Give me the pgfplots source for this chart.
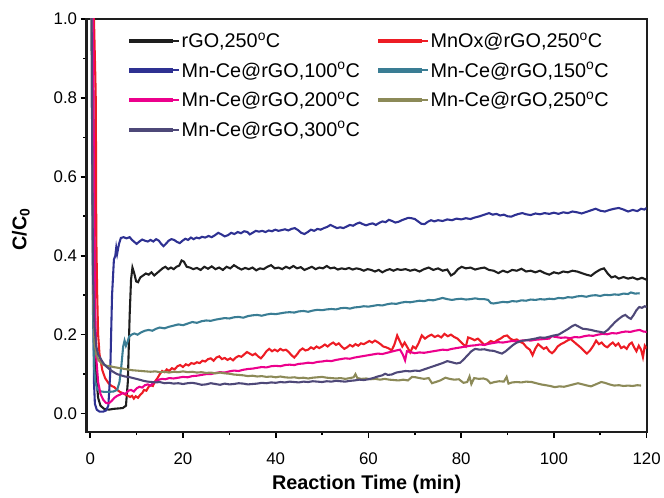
\documentclass[border=0pt]{standalone}
\usepackage{fontspec}
\setmainfont{Liberation Sans}
\usepackage{pgfplots}
\pgfplotsset{compat=1.18}

\definecolor{cBlack}{RGB}{30,30,30}
\definecolor{cRed}{RGB}{237,28,36}
\definecolor{cNavy}{RGB}{46,49,146}
\definecolor{cTeal}{RGB}{58,125,148}
\definecolor{cMag}{RGB}{236,0,140}
\definecolor{cOlive}{RGB}{140,138,88}
\definecolor{cSlate}{RGB}{78,72,120}

\begin{document}
\begin{tikzpicture}
\begin{axis}[
  name=ax,
  scale only axis, width=563bp, height=415bp,
  xmin=-0.8, xmax=120, ymin=-0.046, ymax=1.0,
  xtick={0,20,...,120}, ytick={0,0.2,0.4,0.6,0.8,1.0},
  minor x tick num=1, minor y tick num=1,
  tick align=outside, tick pos=left,
  major tick length=6bp, minor tick length=3.5bp,
  every tick/.append style={black, line width=1.6pt},
  axis line style={line width=2.2pt, cBlack},
  /pgf/number format/assume math mode=true,
  ticklabel style={font=\fontsize{17}{17}\selectfont},
  yticklabel style={/pgf/number format/.cd, fixed, fixed zerofill, precision=1},
  xticklabel style={yshift=-12bp},
  every axis x label/.style={at={(rel axis cs:0.5,0)}, yshift=-53bp, anchor=center},
  every axis y label/.style={at={(rel axis cs:0,0.49)}, xshift=-66bp, rotate=90, anchor=center},
  label style={font=\fontsize{20}{20}\selectfont},
  xlabel={\textbf{Reaction Time (min)}},
  ylabel={\textbf{C/C\textsubscript{0}}},
  legend columns=2,
  legend cell align=left,
  legend image code/.code={\fill[#1] (0bp,-1.1bp) rectangle (42bp,1.1bp); \path (0bp,0bp) -- (49bp,0bp);},
  legend style={draw=none, fill=none, at={(0.07,0.977)}, anchor=north west,
    font=\fontsize{20}{20}\selectfont, row sep=9.3bp,
    /tikz/every even column/.append style={column sep=16bp}},
  every axis plot/.append style={line width=2.1pt},
]

% rGO, 250 C
\addplot[cBlack] coordinates {
(0,1.0) (0.5,1.0) (0.8,0.6) (1.0,0.25) (1.3,0.09) (1.7,0.04) (2.2,0.02) (3.0,0.012) (4.0,0.010) (5.0,0.012) (6.0,0.013) (7.0,0.014) (7.7,0.02) (8.1,0.08) (8.5,0.25) (8.8,0.34) (9.1,0.37) (9.5,0.355) (9.9,0.335) (10.3,0.333) (10.8,0.345) (11.4,0.35) (12.0,0.355) (12.6,0.352) (13.2,0.358) (13.8,0.35) (14.4,0.356) (15.0,0.362) (15.6,0.368) (16.2,0.372) (16.8,0.366) (17.4,0.37) (18.0,0.366) (18.6,0.372) (19.2,0.375) (19.7,0.388) (20.2,0.385) (20.8,0.372) (21.5,0.37) (22.2,0.366) (23.0,0.369) (23.8,0.364) (24.6,0.372) (25.4,0.367) (26.2,0.373) (27.0,0.366) (27.8,0.37) (28.6,0.364) (29.4,0.372) (30.2,0.368) (31.0,0.376) (31.8,0.37) (32.6,0.365) (33.4,0.369) (34.2,0.366) (35.0,0.37) (35.8,0.363) (36.6,0.368) (37.4,0.366) (38.2,0.372) (39.0,0.376) (39.8,0.368) (40.6,0.37) (41.4,0.366) (42.2,0.372) (43.0,0.368) (43.8,0.374) (44.6,0.368) (45.4,0.371) (46.2,0.364) (47.0,0.368) (47.8,0.372) (48.6,0.366) (49.4,0.37) (50.2,0.368) (51.0,0.374) (51.8,0.368) (52.6,0.37) (53.4,0.365) (54.2,0.368) (55.0,0.366) (55.8,0.369) (56.6,0.365) (57.4,0.368) (58.2,0.366) (59.0,0.362) (59.8,0.366) (60.6,0.364) (61.4,0.36) (62.2,0.364) (63.0,0.358) (63.8,0.363) (64.6,0.366) (65.4,0.362) (66.2,0.366) (67.0,0.364) (68.0,0.366) (69.0,0.362) (70.0,0.365) (71.0,0.36) (72.0,0.366) (73.0,0.37) (74.0,0.364) (75.0,0.368) (76.0,0.362) (77.0,0.365) (77.8,0.35) (78.5,0.355) (79.3,0.366) (80.1,0.372) (81.0,0.368) (82.0,0.37) (83.0,0.365) (84.0,0.368) (85.0,0.37) (86.0,0.364) (87.0,0.362) (88.0,0.356) (89.0,0.362) (90.0,0.358) (91.0,0.364) (92.0,0.362) (93.0,0.367) (94.0,0.36) (95.0,0.362) (96.0,0.358) (97.0,0.362) (98.0,0.356) (99.0,0.352) (100.0,0.358) (101.0,0.355) (102.0,0.36) (103.0,0.358) (104.0,0.362) (105.0,0.36) (106.0,0.356) (107.0,0.352) (108.0,0.349) (109.0,0.358) (110.0,0.365) (110.8,0.368) (111.6,0.355) (112.4,0.345) (113.2,0.348) (114.0,0.342) (115.0,0.346) (116.0,0.342) (117.0,0.345) (118.0,0.34) (119.0,0.344) (120.0,0.339)
};
\addlegendentry{rGO,250\textsuperscript{o}C}

% MnOx@rGO, 250 C
\addplot[cRed] coordinates {
(0,1.0) (0.8,1.0) (1.1,0.85) (1.2,0.79) (1.3,0.45) (1.5,0.3) (1.7,0.2) (2.0,0.15) (2.6,0.11) (3.2,0.09) (4.0,0.076) (4.6,0.07) (5.2,0.067) (5.8,0.06) (6.4,0.055) (7.0,0.052) (7.6,0.048) (8.0,0.046) (8.6,0.042) (9.0,0.045) (9.4,0.038) (9.8,0.044) (10.3,0.04) (10.8,0.048) (11.2,0.052) (11.6,0.06) (12.1,0.058) (12.6,0.068) (13.0,0.072) (13.5,0.07) (14.0,0.082) (14.5,0.09) (15.0,0.1) (15.5,0.108) (16.0,0.105) (16.5,0.112) (17.0,0.108) (17.6,0.115) (18.2,0.112) (18.8,0.12) (19.4,0.123) (20.0,0.118) (20.6,0.125) (21.2,0.122) (21.8,0.128) (22.4,0.126) (23.0,0.13) (23.6,0.128) (24.2,0.134) (24.8,0.132) (25.4,0.138) (26.0,0.14) (26.6,0.134) (27.2,0.142) (27.8,0.145) (28.4,0.138) (29.0,0.141) (29.6,0.136) (30.2,0.14) (30.8,0.135) (31.4,0.142) (32.0,0.146) (32.6,0.144) (33.2,0.15) (33.8,0.156) (34.4,0.152) (35.0,0.148) (35.6,0.152) (36.2,0.145) (36.8,0.14) (37.4,0.148) (38.0,0.158) (38.6,0.164) (39.2,0.158) (39.8,0.162) (40.4,0.158) (41.0,0.164) (41.6,0.16) (42.2,0.162) (42.8,0.156) (43.4,0.148) (44.0,0.142) (44.6,0.15) (45.2,0.16) (45.8,0.165) (46.4,0.16) (47.0,0.162) (47.6,0.168) (48.2,0.164) (48.8,0.17) (49.4,0.166) (50.0,0.17) (50.6,0.175) (51.2,0.17) (51.8,0.176) (52.4,0.18) (53.0,0.174) (53.6,0.178) (54.2,0.17) (54.8,0.164) (55.4,0.168) (56.0,0.174) (56.6,0.17) (57.2,0.176) (57.8,0.172) (58.4,0.178) (59.0,0.176) (59.6,0.18) (60.2,0.184) (60.8,0.18) (61.4,0.185) (62.0,0.181) (62.6,0.176) (63.2,0.17) (63.8,0.168) (64.4,0.165) (65.0,0.16) (65.6,0.175) (66.2,0.198) (66.7,0.185) (67.3,0.17) (67.8,0.18) (68.4,0.168) (69.0,0.155) (69.6,0.17) (70.2,0.165) (70.8,0.178) (71.5,0.198) (72.2,0.19) (72.9,0.196) (73.6,0.2) (74.3,0.194) (75.0,0.198) (75.7,0.193) (76.4,0.202) (77.1,0.196) (77.8,0.2) (78.5,0.194) (79.2,0.19) (79.9,0.182) (80.5,0.175) (81.0,0.17) (81.5,0.193) (82.2,0.19) (82.9,0.186) (83.6,0.19) (84.3,0.182) (85.0,0.174) (85.7,0.178) (86.4,0.184) (87.1,0.18) (87.8,0.186) (88.5,0.19) (89.2,0.196) (89.9,0.198) (90.6,0.19) (91.3,0.186) (92.0,0.188) (92.7,0.182) (93.4,0.178) (94.1,0.168) (94.8,0.162) (95.4,0.148) (96.0,0.165) (96.6,0.176) (97.2,0.17) (97.8,0.164) (98.4,0.168) (99.0,0.158) (99.6,0.153) (100.2,0.16) (100.8,0.17) (101.5,0.176) (102.2,0.18) (102.9,0.185) (103.6,0.189) (104.3,0.182) (105.0,0.175) (105.7,0.168) (106.4,0.16) (107.1,0.152) (107.8,0.16) (108.5,0.172) (109.1,0.185) (109.7,0.176) (110.3,0.18) (110.9,0.172) (111.5,0.168) (112.1,0.175) (112.7,0.18) (113.3,0.172) (113.9,0.178) (114.5,0.166) (115.1,0.17) (115.7,0.164) (116.3,0.176) (116.8,0.18) (117.3,0.168) (117.8,0.158) (118.3,0.172) (118.8,0.162) (119.2,0.143) (119.6,0.172) (120.0,0.165)
};
\addlegendentry{MnOx@rGO,250\textsuperscript{o}C}

% Mn-Ce@rGO, 100 C
\addplot[cNavy] coordinates {
(0,1.0) (0.4,1.0) (0.6,0.5) (0.8,0.08) (1.0,0.025) (1.4,0.01) (2.0,0.005) (2.8,0.005) (3.4,0.008) (3.9,0.02) (4.3,0.1) (4.7,0.3) (5.1,0.39) (5.4,0.40) (5.6,0.42) (5.8,0.405) (6.2,0.43) (6.6,0.445) (7.2,0.447) (7.8,0.444) (8.5,0.447) (9.0,0.44) (9.5,0.435) (10.0,0.43) (10.6,0.436) (11.2,0.441) (11.8,0.438) (12.4,0.436) (13.0,0.44) (13.6,0.436) (14.2,0.442) (14.8,0.438) (15.3,0.43) (15.8,0.424) (16.3,0.43) (16.9,0.438) (17.5,0.442) (18.1,0.44) (18.7,0.435) (19.3,0.432) (19.9,0.438) (20.5,0.443) (21.1,0.44) (21.7,0.446) (22.3,0.442) (22.9,0.446) (23.5,0.444) (24.1,0.448) (24.8,0.446) (25.5,0.45) (26.2,0.447) (26.9,0.452) (27.6,0.458) (28.3,0.454) (29.0,0.449) (29.7,0.452) (30.4,0.458) (31.1,0.455) (31.8,0.46) (32.5,0.457) (33.2,0.462) (33.9,0.46) (34.4,0.454) (35.0,0.458) (35.7,0.463) (36.4,0.461) (37.1,0.463) (37.8,0.46) (38.5,0.464) (39.2,0.462) (39.9,0.466) (40.6,0.463) (41.3,0.465) (42.0,0.467) (42.7,0.464) (43.4,0.468) (44.1,0.47) (44.8,0.465) (45.5,0.458) (46.2,0.455) (46.9,0.46) (47.6,0.466) (48.3,0.463) (49.0,0.468) (49.7,0.466) (50.4,0.47) (51.1,0.473) (51.8,0.478) (52.5,0.474) (53.2,0.47) (53.9,0.472) (54.6,0.47) (55.3,0.474) (56.0,0.478) (56.7,0.476) (57.4,0.481) (58.1,0.484) (58.8,0.48) (59.5,0.477) (60.2,0.48) (60.9,0.482) (61.6,0.478) (62.3,0.483) (63.0,0.487) (63.7,0.485) (64.4,0.491) (65.1,0.488) (65.8,0.484) (66.5,0.486) (67.2,0.49) (67.9,0.493) (68.6,0.496) (69.3,0.495) (70.0,0.493) (70.7,0.487) (71.4,0.481) (72.1,0.48) (72.8,0.486) (73.5,0.49) (74.2,0.487) (75.0,0.49) (76.0,0.488) (77.0,0.492) (78.0,0.49) (79.0,0.494) (80.0,0.492) (81.0,0.495) (82.0,0.493) (83.0,0.497) (84.0,0.5) (85.0,0.504) (86.0,0.508) (86.8,0.504) (87.6,0.506) (88.4,0.502) (89.2,0.504) (90.0,0.5) (90.8,0.499) (91.6,0.503) (92.4,0.506) (93.2,0.508) (94.0,0.505) (95.0,0.503) (96.0,0.507) (97.0,0.505) (98.0,0.508) (99.0,0.506) (100.0,0.509) (101.0,0.506) (102.0,0.51) (103.0,0.508) (104.0,0.512) (105.0,0.51) (106.0,0.507) (107.0,0.511) (108.0,0.515) (109.0,0.519) (110.0,0.514) (111.0,0.512) (112.0,0.516) (113.0,0.519) (114.0,0.521) (115.0,0.517) (116.0,0.512) (117.0,0.516) (118.0,0.513) (118.8,0.519) (119.5,0.517) (120.0,0.521)
};
\addlegendentry{Mn-Ce@rGO,100\textsuperscript{o}C}

% Mn-Ce@rGO, 150 C
\addplot[cTeal] coordinates {
(0,1.0) (0.3,1.0) (0.45,0.6) (0.6,0.25) (0.8,0.12) (1.1,0.08) (1.5,0.062) (2.0,0.057) (3.0,0.055) (4.0,0.055) (5.0,0.056) (5.8,0.06) (6.3,0.08) (6.7,0.12) (7.1,0.17) (7.4,0.185) (7.7,0.172) (8.0,0.18) (8.4,0.195) (8.9,0.2) (9.5,0.203) (10.2,0.2) (11.0,0.206) (11.8,0.21) (12.6,0.212) (13.4,0.21) (14.2,0.215) (15.0,0.218) (16.0,0.216) (17.0,0.22) (18.0,0.223) (19.0,0.226) (20.0,0.224) (21.0,0.228) (22.0,0.232) (23.0,0.23) (24.0,0.234) (25.0,0.236) (26.0,0.235) (27.0,0.238) (28.0,0.24) (29.0,0.242) (30.0,0.241) (31.0,0.244) (32.0,0.245) (33.0,0.243) (34.0,0.247) (35.0,0.249) (36.0,0.25) (37.0,0.248) (38.0,0.251) (39.0,0.253) (40.0,0.252) (41.0,0.254) (42.0,0.256) (43.0,0.257) (44.0,0.256) (45.0,0.259) (46.0,0.26) (47.0,0.258) (48.0,0.261) (49.0,0.263) (50.0,0.262) (51.0,0.264) (52.0,0.265) (53.0,0.264) (54.0,0.267) (55.0,0.268) (56.0,0.266) (57.0,0.269) (58.0,0.27) (59.0,0.272) (60.0,0.271) (61.0,0.273) (62.0,0.275) (63.0,0.274) (64.0,0.277) (65.0,0.279) (66.0,0.278) (67.0,0.281) (68.0,0.283) (69.0,0.282) (70.0,0.284) (71.0,0.286) (72.0,0.285) (73.0,0.288) (74.0,0.287) (75.0,0.29) (76.0,0.293) (77.0,0.29) (78.0,0.288) (79.0,0.29) (80.0,0.291) (81.0,0.289) (82.0,0.29) (83.0,0.292) (84.0,0.29) (85.0,0.29) (85.8,0.288) (86.4,0.28) (87.0,0.279) (88.0,0.281) (89.0,0.283) (90.0,0.282) (91.0,0.285) (92.0,0.284) (93.0,0.287) (94.0,0.286) (95.0,0.289) (96.0,0.288) (97.0,0.29) (98.0,0.289) (99.0,0.291) (100.0,0.29) (101.0,0.293) (102.0,0.292) (103.0,0.295) (104.0,0.294) (105.0,0.297) (106.0,0.298) (107.0,0.296) (108.0,0.299) (109.0,0.3) (110.0,0.298) (111.0,0.301) (112.0,0.3) (113.0,0.302) (114.0,0.301) (115.0,0.304) (116.0,0.303) (116.6,0.307) (117.5,0.304) (118.5,0.305)
};
\addlegendentry{Mn-Ce@rGO,150\textsuperscript{o}C}

% Mn-Ce@rGO, 200 C
\addplot[cMag] coordinates {
(0,1.0) (0.6,1.0) (0.8,0.6) (1.0,0.3) (1.3,0.14) (1.7,0.08) (2.2,0.05) (2.8,0.035) (3.4,0.027) (4.0,0.026) (4.6,0.032) (5.2,0.04) (5.8,0.045) (6.4,0.048) (7.0,0.052) (7.6,0.05) (8.2,0.058) (8.8,0.06) (9.4,0.056) (10.0,0.064) (10.6,0.068) (11.2,0.066) (11.8,0.072) (12.4,0.074) (13.0,0.071) (13.6,0.078) (14.2,0.082) (14.8,0.086) (15.5,0.088) (16.2,0.087) (17.0,0.09) (18.0,0.089) (19.0,0.091) (20.0,0.093) (21.0,0.092) (22.0,0.095) (23.0,0.096) (24.0,0.098) (25.0,0.1) (26.0,0.1) (27.0,0.103) (28.0,0.105) (29.0,0.104) (30.0,0.107) (31.0,0.109) (32.0,0.108) (33.0,0.111) (34.0,0.113) (35.0,0.114) (36.0,0.116) (37.0,0.118) (38.0,0.117) (39.0,0.12) (40.0,0.121) (41.0,0.12) (42.0,0.123) (43.0,0.124) (44.0,0.123) (45.0,0.126) (46.0,0.127) (47.0,0.129) (48.0,0.128) (49.0,0.131) (50.0,0.132) (51.0,0.134) (52.0,0.133) (53.0,0.136) (54.0,0.138) (55.0,0.14) (56.0,0.139) (57.0,0.142) (58.0,0.144) (59.0,0.146) (60.0,0.148) (61.0,0.15) (62.0,0.152) (63.0,0.151) (64.0,0.154) (65.0,0.157) (66.0,0.16) (66.8,0.162) (67.4,0.15) (67.9,0.135) (68.3,0.158) (69.0,0.156) (70.0,0.153) (71.0,0.155) (72.0,0.154) (73.0,0.156) (74.0,0.158) (75.0,0.16) (76.0,0.162) (77.0,0.161) (78.0,0.164) (79.0,0.166) (80.0,0.168) (81.0,0.17) (82.0,0.172) (83.0,0.173) (84.0,0.175) (85.0,0.174) (86.0,0.177) (87.0,0.179) (88.0,0.181) (89.0,0.18) (90.0,0.182) (91.0,0.184) (92.0,0.183) (93.0,0.185) (94.0,0.186) (95.0,0.185) (96.0,0.187) (97.0,0.188) (98.0,0.189) (99.0,0.19) (99.5,0.196) (100.5,0.194) (101.5,0.192) (102.5,0.193) (103.5,0.191) (104.5,0.194) (105.5,0.193) (106.5,0.196) (107.5,0.198) (108.5,0.197) (109.5,0.2) (110.5,0.202) (111.5,0.201) (112.5,0.204) (113.5,0.203) (114.5,0.206) (115.5,0.208) (116.5,0.207) (117.5,0.21) (118.5,0.212) (119.3,0.208) (120.0,0.207)
};
\addlegendentry{Mn-Ce@rGO,200\textsuperscript{o}C}

% Mn-Ce@rGO, 250 C
\addplot[cOlive] coordinates {
(0,1.0) (0.3,1.0) (0.4,0.7) (0.6,0.3) (0.9,0.18) (1.3,0.15) (1.8,0.135) (2.4,0.128) (3.0,0.123) (3.6,0.121) (4.3,0.12) (5.0,0.118) (6.0,0.116) (7.0,0.114) (8.0,0.112) (9.0,0.11) (10.0,0.109) (11.0,0.108) (12.0,0.107) (13.0,0.106) (14.0,0.107) (15.0,0.105) (16.0,0.106) (17.0,0.104) (18.0,0.106) (19.0,0.105) (20.0,0.107) (21.0,0.105) (22.0,0.106) (23.0,0.104) (24.0,0.105) (25.0,0.103) (26.0,0.104) (27.0,0.102) (28.0,0.104) (29.0,0.102) (30.0,0.101) (31.0,0.099) (32.0,0.098) (33.0,0.097) (34.0,0.095) (35.0,0.096) (36.0,0.094) (37.0,0.095) (38.0,0.093) (39.0,0.094) (40.0,0.092) (41.0,0.094) (42.0,0.092) (43.0,0.091) (44.0,0.092) (45.0,0.09) (46.0,0.091) (47.0,0.089) (48.0,0.091) (49.0,0.092) (50.0,0.093) (51.0,0.091) (52.0,0.09) (53.0,0.089) (54.0,0.09) (55.0,0.088) (56.0,0.09) (56.8,0.092) (57.2,0.1) (57.6,0.09) (58.5,0.088) (59.5,0.089) (60.5,0.087) (61.5,0.088) (62.5,0.086) (63.5,0.088) (64.5,0.086) (65.5,0.085) (66.5,0.084) (67.5,0.086) (68.5,0.084) (69.4,0.093) (70.2,0.092) (71.0,0.09) (72.0,0.088) (73.0,0.09) (73.7,0.077) (74.5,0.08) (75.5,0.084) (76.6,0.091) (77.5,0.088) (78.5,0.086) (79.5,0.087) (80.5,0.078) (81.3,0.08) (81.8,0.094) (82.2,0.075) (82.8,0.09) (83.8,0.088) (84.8,0.089) (85.6,0.086) (86.3,0.077) (87.2,0.08) (88.2,0.082) (89.2,0.081) (89.8,0.093) (90.2,0.076) (91.0,0.079) (92.0,0.08) (93.0,0.079) (94.0,0.081) (95.2,0.08) (96.2,0.077) (97.2,0.074) (98.2,0.072) (99.2,0.07) (100.2,0.067) (101.2,0.069) (102.2,0.068) (103.2,0.071) (104.2,0.074) (105.2,0.077) (106.2,0.074) (107.2,0.071) (108.0,0.069) (109.0,0.074) (110.2,0.08) (111.0,0.078) (112.0,0.074) (113.0,0.071) (114.0,0.072) (115.0,0.07) (116.0,0.071) (117.0,0.07) (118.0,0.072) (118.8,0.071)
};
\addlegendentry{Mn-Ce@rGO,250\textsuperscript{o}C}

% Mn-Ce@rGO, 300 C
\addplot[cSlate] coordinates {
(0,1.0) (0.3,1.0) (0.45,0.6) (0.6,0.35) (0.9,0.22) (1.3,0.17) (1.7,0.15) (2.1,0.142) (2.6,0.132) (3.0,0.125) (3.6,0.118) (4.4,0.11) (5.2,0.104) (5.8,0.1) (6.6,0.097) (7.5,0.094) (8.6,0.092) (9.6,0.089) (10.6,0.086) (11.5,0.083) (12.4,0.081) (13.3,0.08) (14.2,0.079) (15.0,0.08) (16.0,0.077) (17.0,0.078) (18.0,0.076) (19.0,0.077) (20.0,0.075) (21.0,0.077) (22.0,0.078) (23.0,0.076) (24.0,0.073) (25.0,0.074) (26.0,0.077) (27.0,0.075) (28.0,0.073) (29.0,0.076) (30.0,0.074) (31.0,0.075) (32.0,0.077) (33.0,0.076) (34.0,0.074) (35.0,0.075) (36.0,0.076) (37.0,0.078) (38.0,0.077) (39.0,0.079) (40.0,0.078) (41.0,0.08) (42.0,0.079) (43.0,0.081) (44.0,0.08) (45.0,0.079) (46.0,0.081) (47.0,0.08) (48.0,0.082) (49.0,0.081) (50.0,0.08) (51.0,0.082) (52.0,0.081) (53.0,0.083) (54.0,0.082) (55.0,0.081) (56.0,0.083) (57.0,0.084) (58.0,0.086) (59.0,0.085) (60.0,0.087) (61.0,0.09) (62.0,0.094) (63.0,0.097) (63.6,0.101) (64.2,0.098) (65.0,0.099) (66.0,0.104) (67.0,0.106) (68.0,0.108) (69.0,0.107) (70.0,0.109) (71.0,0.108) (72.0,0.112) (73.0,0.116) (74.0,0.12) (75.0,0.124) (76.0,0.128) (77.0,0.133) (78.0,0.13) (79.0,0.127) (79.8,0.129) (80.6,0.138) (81.4,0.148) (82.2,0.158) (83.0,0.164) (84.0,0.162) (85.0,0.163) (86.0,0.16) (87.0,0.159) (88.0,0.155) (88.8,0.152) (89.6,0.158) (90.4,0.166) (91.2,0.174) (92.0,0.18) (93.0,0.184) (94.0,0.186) (95.0,0.188) (96.0,0.19) (97.0,0.193) (98.0,0.192) (99.0,0.195) (100.0,0.198) (101.0,0.2) (102.0,0.207) (103.0,0.214) (104.0,0.222) (104.6,0.225) (105.4,0.22) (106.2,0.215) (107.0,0.214) (108.0,0.212) (109.0,0.209) (110.0,0.207) (110.8,0.205) (111.6,0.212) (112.4,0.222) (113.2,0.232) (114.0,0.24) (114.8,0.247) (115.4,0.25) (116.0,0.244) (116.6,0.24) (117.2,0.25) (117.8,0.262) (118.4,0.27) (119.0,0.268) (119.6,0.272) (120.0,0.27)
};
\addlegendentry{Mn-Ce@rGO,300\textsuperscript{o}C}

\end{axis}
\path ([xshift=-87bp,yshift=-58bp]ax.south west) rectangle ([xshift=14bp,yshift=19bp]ax.north east);
\end{tikzpicture}
\end{document}
